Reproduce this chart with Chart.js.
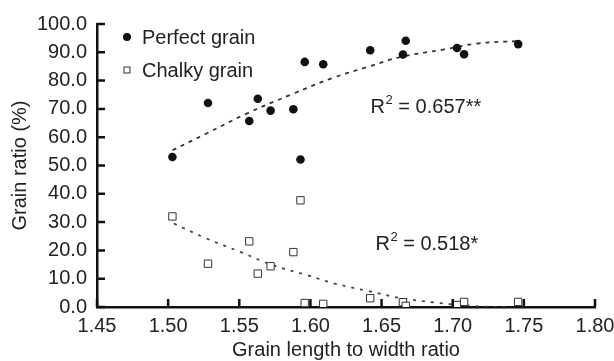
<!DOCTYPE html>
<html>
<head>
<meta charset="utf-8">
<script src="https://cdn.jsdelivr.net/npm/chart.js@4.4.0/dist/chart.umd.min.js"></script>
<style>
  html, body { margin: 0; padding: 0; background: #fff; overflow: hidden; }
  #wrap { width: 640px; height: 361px; }
</style>
</head>
<body>
<div id="wrap"><canvas id="grafico"></canvas></div>
<script>
// valores
var xValues = [1.503, 1.528, 1.557, 1.563, 1.572, 1.588, 1.593, 1.596, 1.609, 1.642, 1.665, 1.667, 1.703, 1.708, 1.746];
var perfectValues = [53.0, 72.1, 65.7, 73.6, 69.4, 69.9, 52.1, 86.6, 85.8, 90.7, 89.2, 94.1, 91.5, 89.3, 92.9];
var chalkyValues = [32.0, 15.3, 23.2, 11.8, 14.4, 19.4, 37.7, 1.4, 1.1, 3.1, 1.7, 0.4, 0.7, 1.8, 1.8];

// linhas de tendência
var perfectTrendX = [1.503, 1.527, 1.555, 1.588, 1.616, 1.640, 1.663, 1.694, 1.717, 1.746];
var perfectTrendY = [55.4, 61.3, 68.3, 75.4, 81.0, 84.8, 88.3, 91.0, 93.1, 94.0];
var chalkyTrendX = [1.504, 1.527, 1.551, 1.574, 1.598, 1.617, 1.640, 1.663, 1.687, 1.703, 1.720, 1.738];
var chalkyTrendY = [29.5, 24.2, 19.4, 14.7, 11.2, 8.3, 5.7, 3.2, 1.6, 0.8, 0.2, 0.0];

var xTicks = [1.45, 1.50, 1.55, 1.60, 1.65, 1.70, 1.75, 1.80];
var yTicks = [0, 10, 20, 30, 40, 50, 60, 70, 80, 90, 100];

var labels = ['Perfect grain', 'Chalky grain'];
var r2Values = [' = 0.657**', ' = 0.518*'];
var r2Pos = [[1.6423, 70.6], [1.6457, 22.2]];

function pts(xs, ys) {
    return xs.map(function(x, i) { return { x: x, y: ys[i] }; });
}

var FONT = '"Liberation Sans", Arial, sans-serif';
var TEXT = '#222';

// marcas de escala para dentro + legenda + R²
var extras = {
    id: 'extras',
    afterDraw: function(chart) {
        var ctx = chart.ctx, a = chart.chartArea;
        var xs = chart.scales.x, ys = chart.scales.y;
        ctx.save();
        ctx.strokeStyle = '#111';
        ctx.lineWidth = 2.5;
        ctx.beginPath();
        xTicks.forEach(function(v) {
            var px = xs.getPixelForValue(v);
            ctx.moveTo(px, a.bottom);
            ctx.lineTo(px, a.bottom - 8);
        });
        yTicks.forEach(function(v) {
            var py = ys.getPixelForValue(v);
            ctx.moveTo(a.left, py);
            ctx.lineTo(a.left + 8, py);
        });
        ctx.stroke();

        // legenda
        ctx.font = '20px ' + FONT;
        ctx.fillStyle = TEXT;
        ctx.textBaseline = 'middle';
        ctx.textAlign = 'left';
        var lx = a.left + 30, ly = a.top + 13;
        ctx.beginPath();
        ctx.arc(lx, ly, 4, 0, Math.PI * 2);
        ctx.fillStyle = '#111';
        ctx.fill();
        ctx.fillStyle = TEXT;
        ctx.fillText(labels[0], lx + 15, ly + 1);
        ly += 33;
        ctx.fillStyle = '#fff';
        ctx.strokeStyle = '#333';
        ctx.lineWidth = 1;
        ctx.fillRect(lx - 3, ly - 3, 6, 6);
        ctx.strokeRect(lx - 3, ly - 3, 6, 6);
        ctx.fillStyle = TEXT;
        ctx.fillText(labels[1], lx + 15, ly + 1);

        // R² com expoente
        r2Values.forEach(function(t, i) {
            var px = xs.getPixelForValue(r2Pos[i][0]);
            var py = ys.getPixelForValue(r2Pos[i][1]);
            ctx.font = '20px ' + FONT;
            ctx.fillText('R', px, py);
            var w = ctx.measureText('R').width;
            ctx.font = '13px ' + FONT;
            ctx.fillText('2', px + w + 0.5, py - 7);
            var w2 = ctx.measureText('2').width;
            ctx.font = '20px ' + FONT;
            ctx.fillText(t, px + w + w2 + 0.5, py);
        });
        ctx.restore();
    }
};

var ctx = document.getElementById('grafico').getContext('2d');
var chart = new Chart(ctx, {
    type: 'scatter',
    data: {
        datasets: [{
            label: labels[0],
            data: pts(xValues, perfectValues),
            pointStyle: 'circle',
            pointRadius: 4.3,
            backgroundColor: '#111',
            borderColor: '#111',
            borderWidth: 0,
            order: 1
        }, {
            label: labels[1],
            data: pts(xValues, chalkyValues),
            pointStyle: 'rect',
            pointRadius: 5.2,
            backgroundColor: '#fff',
            borderColor: '#333',
            borderWidth: 1,
            order: 0
        }, {
            type: 'line',
            data: pts(perfectTrendX, perfectTrendY),
            borderColor: '#333',
            borderWidth: 1.8,
            borderDash: [4, 5],
            pointRadius: 0,
            tension: 0.4,
            fill: false,
            order: 2
        }, {
            type: 'line',
            data: pts(chalkyTrendX, chalkyTrendY),
            borderColor: '#444',
            borderWidth: 1.8,
            borderDash: [3, 6],
            pointRadius: 0,
            tension: 0.4,
            fill: false,
            order: 2
        }]
    },
    options: {
        responsive: true,
        maintainAspectRatio: false,
        animation: false,
        events: [],
        layout: { padding: { left: 0, top: 24, right: 45, bottom: 0 } },
        plugins: { legend: { display: false }, tooltip: { enabled: false } },
        scales: {
            x: {
                type: 'linear',
                min: 1.45,
                max: 1.80,
                afterBuildTicks: function(s) { s.ticks = xTicks.map(function(v) { return { value: v }; }); },
                afterFit: function(s) { s.height = 54; },
                grid: { display: false, drawTicks: false },
                border: { display: true, color: '#111', width: 2.5 },
                ticks: {
                    padding: 7,
                    color: TEXT,
                    font: { family: FONT, size: 20 },
                    maxRotation: 0,
                    callback: function(v) { return Number(v).toFixed(2); }
                },
                title: {
                    display: true,
                    text: 'Grain length to width ratio',
                    color: TEXT,
                    font: { family: FONT, size: 20 },
                    padding: { top: 0, bottom: -1 }
                }
            },
            y: {
                min: 0,
                max: 100,
                afterBuildTicks: function(s) { s.ticks = yTicks.map(function(v) { return { value: v }; }); },
                afterFit: function(s) { s.width = 97; },
                grid: { display: false, drawTicks: false },
                border: { display: true, color: '#111', width: 2.5 },
                ticks: {
                    padding: 10,
                    color: TEXT,
                    font: { family: FONT, size: 20 },
                    callback: function(v) { return Number(v).toFixed(1); }
                },
                title: {
                    display: true,
                    text: 'Grain ratio (%)',
                    color: TEXT,
                    font: { family: FONT, size: 20 },
                    padding: { top: 8, bottom: 0 }
                }
            }
        }
    },
    plugins: [extras]
});
</script>
</body>
</html>
